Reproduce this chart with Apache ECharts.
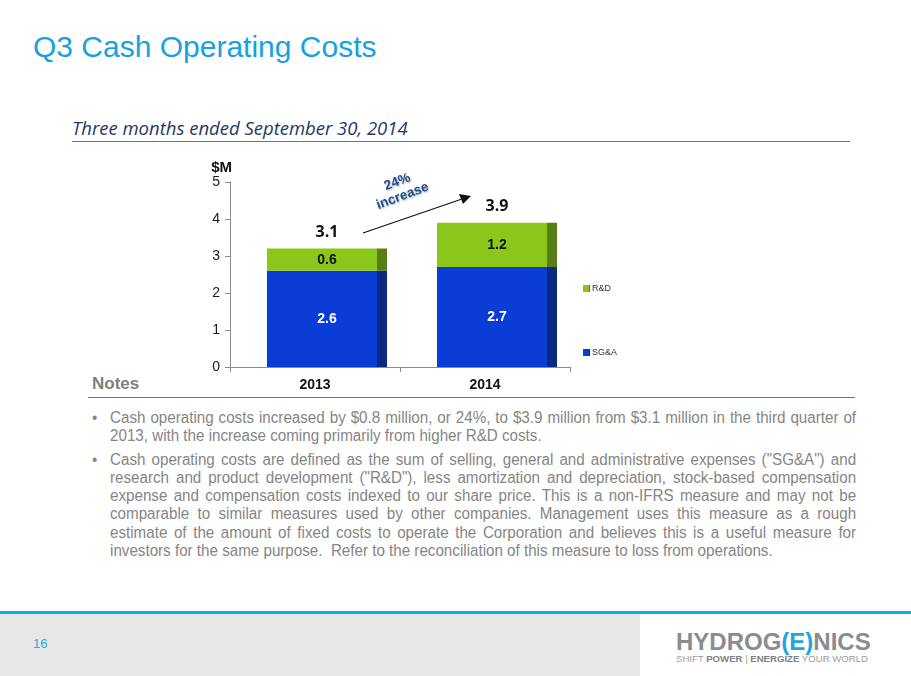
<!DOCTYPE html>
<html>
<head>
<meta charset="utf-8">
<script src="https://cdn.jsdelivr.net/npm/echarts@6/dist/echarts.min.js"></script>
<style>
  html, body { margin: 0; padding: 0; background: #fff; }
  #page { position: relative; width: 911px; height: 676px; overflow: hidden; font-family: "Liberation Sans", Arial, sans-serif; }
  #chart { position: absolute; left: 0; top: 0; width: 911px; height: 676px; }
  .abs { position: absolute; }
  #title { left: 33px; top: 30px; font-size: 30px; color: #17A2DF; }
  #subtitle { left: 72px; top: 115px; font-family: "Open Sans", sans-serif; font-style: italic; font-size: 18.5px; color: #1F3864; }
  .rule { height: 1px; background: #3C8A9C; }
  #notesHead { left: 92px; top: 374px; font-family: "Liberation Sans Narrow", "Liberation Sans", sans-serif; font-weight: bold; font-size: 17px; color: #808080; }
  #notes { left: 92px; top: 409px; width: 806px; font-size: 16px; line-height: 18.3px; color: #858585;
           transform: scaleX(0.948); transform-origin: 0 0; }
  #notes .item { position: relative; padding-left: 19px; margin-bottom: 5px; }
  #notes .item:before { content: "\2022"; position: absolute; left: 0; top: 0; }
  #notes .ln { display: block; white-space: nowrap; text-align: justify; text-align-last: justify; }
  #notes .ln.last { text-align-last: left; }
  #footLine { left: 0; top: 611px; width: 911px; height: 3px; background: #0AAEEB; }
  #footGrey { left: 0; top: 614px; width: 640px; height: 62px; background: #E7E7E7; }
  #pageNo { left: 33px; top: 636px; font-size: 13px; color: #29A9E0; }
  #logo { left: 676px; top: 628px; font-family: "Liberation Sans Narrow", "Liberation Sans", sans-serif; font-weight: bold; font-size: 24px; color: #8A8C8F; }
  #logo span { color: #1DA6E0; }
  #tag { left: 676px; top: 653px; font-size: 9.6px; color: #9A9C9E; }
  #tag b { color: #7F8184; }
</style>
</head>
<body>
<div id="page">
  <div class="abs" id="title">Q3 Cash Operating Costs</div>
  <div class="abs" id="subtitle">Three months ended September 30, 2014</div>
  <div class="abs rule" style="left:72px; top:141px; width:778px;"></div>
  <div class="abs" id="notesHead">Notes</div>
  <div class="abs rule" style="left:88px; top:397px; width:767px;"></div>
  <div class="abs" id="notes">
    <div class="item">
      <span class="ln">Cash operating costs increased by $0.8 million, or 24%, to $3.9 million from $3.1 million in the third quarter of</span>
      <span class="ln last">2013, with the increase coming primarily from higher R&amp;D costs.</span>
    </div>
    <div class="item">
      <span class="ln">Cash operating costs are defined as the sum of selling, general and administrative expenses (&quot;SG&amp;A&quot;) and</span>
      <span class="ln">research and product development (&quot;R&amp;D&quot;), less amortization and depreciation, stock-based compensation</span>
      <span class="ln">expense and compensation costs indexed to our share price. This is a non-IFRS measure and may not be</span>
      <span class="ln">comparable to similar measures used by other companies. Management uses this measure as a rough</span>
      <span class="ln">estimate of the amount of fixed costs to operate the Corporation and believes this is a useful measure for</span>
      <span class="ln last">investors for the same purpose.&nbsp; Refer to the reconciliation of this measure to loss from operations.</span>
    </div>
  </div>
  <div class="abs" id="footLine"></div>
  <div class="abs" id="footGrey"></div>
  <div class="abs" id="pageNo">16</div>
  <div class="abs" id="logo">HYDROG<span>(E)</span>NICS</div>
  <div class="abs" id="tag">SHIFT <b>POWER</b> | <b>ENERGIZE</b> YOUR WORLD</div>
  <div id="chart"></div>
</div>
<script>
var years = ["2013", "2014"];
var sgaValues = [2.6, 2.7];
var rdValues = [0.6, 1.2];
var totalValues = [3.1, 3.9];

// bar face colour + darker side strip (fake 3D look)
function sideShade(front, side) {
  return new echarts.graphic.LinearGradient(0, 0, 1, 0, [
    { offset: 0, color: front },
    { offset: 0.915, color: front },
    { offset: 0.916, color: side },
    { offset: 1, color: side },
  ]);
}

var chart = echarts.init(document.getElementById("chart"));

chart.setOption({
  animation: false,
  backgroundColor: "transparent",
  textStyle: { fontFamily: "Liberation Sans, Arial, sans-serif" },
  grid: { left: 230, top: 182, width: 340, height: 185, containLabel: false },
  legend: {
    data: ["R&D", "SG&A"],
    orient: "vertical",
    left: 578,
    top: 279,
    itemGap: 55,
    itemWidth: 7,
    itemHeight: 7,
    icon: "rect",
    textStyle: { fontSize: 9, color: "#333", padding: [0, 0, 0, -3] },
  },
  xAxis: {
    type: "category",
    data: years,
    axisLine: { lineStyle: { color: "#8C8C8C" } },
    axisTick: { show: true, length: 5, lineStyle: { color: "#8C8C8C" } },
    axisLabel: { color: "#111", fontWeight: "bold", fontSize: 14, margin: 11 },
  },
  yAxis: {
    type: "value",
    min: 0,
    max: 5,
    interval: 1,
    name: "$M",
    nameLocation: "end",
    nameGap: 6,
    nameTextStyle: { fontWeight: "bold", fontSize: 15, color: "#111", align: "right", padding: [0, -2, 0, 0] },
    axisLine: { show: true, lineStyle: { color: "#8C8C8C" } },
    axisTick: { show: true, length: 5, lineStyle: { color: "#8C8C8C" } },
    splitLine: { show: false },
    axisLabel: { color: "#1a1a1a", fontSize: 14, margin: 10 },
  },
  series: [
    {
      // empty spacer so the stacked bars sit slightly right of centre
      name: "spacer",
      type: "bar",
      stack: "gap",
      barWidth: 24,
      barGap: 0,
      data: [],
    },
    {
      name: "SG&A",
      type: "bar",
      stack: "cost",
      barWidth: 120,
      data: sgaValues,
      itemStyle: { color: sideShade("#0A3CD6", "#0A2A80") },
      label: { show: true, position: "inside", color: "#fff", fontWeight: "bold", fontSize: 14 },
    },
    {
      name: "R&D",
      type: "bar",
      stack: "cost",
      barWidth: 120,
      data: rdValues,
      itemStyle: { color: sideShade("#8CC61A", "#587E16") },
      label: { show: true, position: "inside", color: "#111", fontWeight: "bold", fontSize: 14 },
    },
    {
      name: "Total",
      type: "bar",
      stack: "cost",
      barWidth: 120,
      data: totalValues.map(function () { return 0; }),
      itemStyle: { color: "transparent" },
      label: {
        show: true,
        position: "top",
        distance: 8,
        fontFamily: "Open Sans, sans-serif",
        fontWeight: "bold",
        fontSize: 16,
        color: "#111",
        formatter: function (p) { return totalValues[p.dataIndex].toFixed(1); },
      },
    },
  ],
  graphic: [
    {
      type: "line",
      shape: { x1: 363, y1: 233, x2: 462, y2: 199 },
      style: { stroke: "#111", lineWidth: 1.2 },
    },
    {
      type: "polygon",
      shape: { points: [[471, 196], [459, 194], [463, 204]] },
      style: { fill: "#111" },
    },
    {
      type: "text",
      x: 400,
      y: 189,
      rotation: 0.36,
      style: {
        text: "24%\nincrease",
        fill: "#1F4E8C",
        font: "bold 13.5px 'Liberation Sans', Arial, sans-serif",
        align: "center",
        verticalAlign: "middle",
        lineHeight: 15,
        textShadowColor: "rgba(0,0,0,0.3)",
        textShadowBlur: 2,
        textShadowOffsetX: 1,
        textShadowOffsetY: 1,
      },
    },
  ],
});
</script>
</body>
</html>
